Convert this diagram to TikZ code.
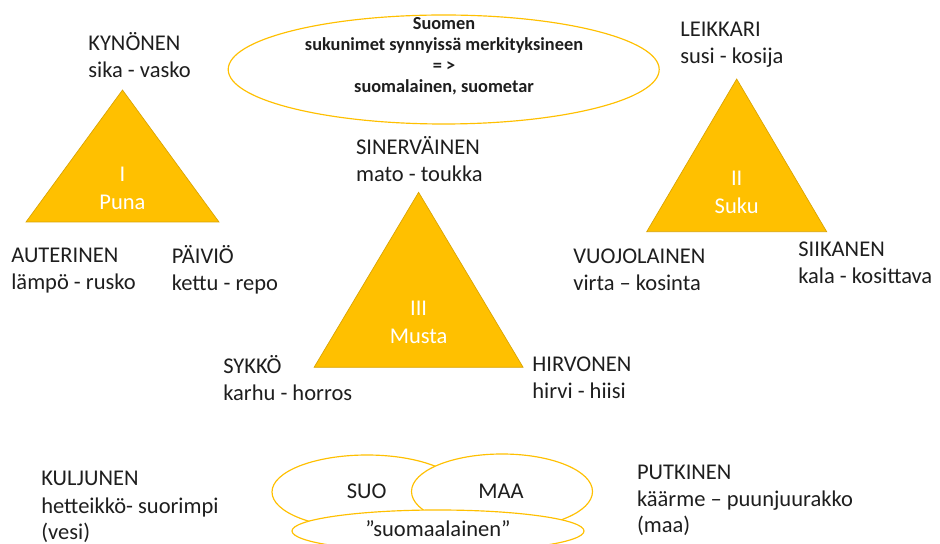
\documentclass[tikz,border=0pt]{standalone}
\usepackage{fontspec}
\setmainfont{Carlito}
\definecolor{kulta}{HTML}{FFC000}
\definecolor{kultareuna}{HTML}{D9A300}
\definecolor{teksti}{HTML}{1E1E1E}
\tikzset{
  nimi/.style={anchor=base west,align=left,inner sep=0pt,text=teksti,
    font=\fontsize{13.5}{16.2}\selectfont},
  ryhma/.style={anchor=base,align=center,inner sep=0pt,text=white,
    font=\fontsize{13.5}{16.8}\selectfont},
  soikio/.style={draw=kulta,line width=0.7pt,fill=white}
}
\begin{document}
\begin{tikzpicture}[x=0.6pt,y=-0.6pt]
\useasboundingbox (0,0) rectangle (940,544);
\clip (0,0) rectangle (940,544);
\foreach \x/\ya/\yb/\w in {122.5/90/222/96.5,736.7/79/231.7/90,418.6/192.3/367.3/104.5} {
  \filldraw[fill=kulta,draw=kultareuna,line width=0.4pt] (\x,\ya) -- (\x+\w,\yb) -- (\x-\w,\yb) -- cycle;
}
\node[ryhma] (puna) at (122.5,210) {I\\Puna};
\node[ryhma] (suku) at (736.7,214) {II\\Suku};
\node[ryhma] (musta) at (418.6,343.3) {III\\Musta};

\draw[soikio] (443.7,69.5) ellipse (215.5 and 54.5);
\node[anchor=base,align=center,inner sep=0pt,text=teksti,
  font=\fontsize{11}{12.7}\selectfont\bfseries] (otsikko) at (444,92.7)
  {Suomen\\sukunimet synnyissä merkityksineen\\= >\\suomalainen, suometar};

\node[nimi] (kynonen) at (88,77.7) {KYNÖNEN\\sika - vasko};
\node[nimi] (auterinen) at (11,290) {AUTERINEN\\lämpö - rusko};
\node[nimi] (paivio) at (171.5,291) {PÄIVIÖ\\kettu - repo};
\node[nimi] (leikkari) at (680,63.3) {LEIKKARI\\susi - kosija};
\node[nimi] (vuojolainen) at (573,291) {VUOJOLAINEN\\virta – kosinta};
\node[nimi] (siikanen) at (798,284) {SIIKANEN\\kala - kosittava};
\node[nimi] (sinervainen) at (355.7,181.7) {SINERVÄINEN\\mato - toukka};
\node[nimi] (sykko) at (223,400.7) {SYKKÖ\\karhu - horros};
\node[nimi] (hirvonen) at (532,398.3) {HIRVONEN\\hirvi - hiisi};
\node[nimi] (kuljunen) at (41,540) {KULJUNEN\\hetteikkö- suorimpi\\(vesi)};
\node[nimi] (putkinen) at (636.7,533) {PUTKINEN\\käärme – puunjuurakko\\(maa)};

\draw[soikio] (367,492) ellipse (95 and 37);
\draw[soikio] (502,491.5) ellipse (90.5 and 37.5);
\draw[soikio] (438,531) ellipse (146 and 21);
\node[nimi,anchor=base] (suo) at (366.7,498.3) {SUO};
\node[nimi,anchor=base] (maa) at (501,498.3) {MAA};
\node[nimi,anchor=base] (suomaalainen) at (438,536.7) {”suomaalainen”};
\end{tikzpicture}
\end{document}
